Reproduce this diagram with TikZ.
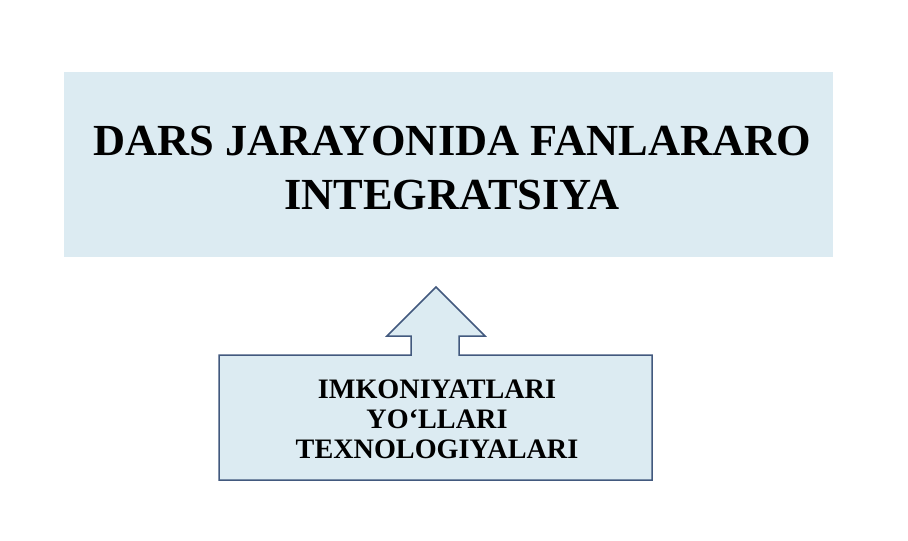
\documentclass[tikz,border=0pt]{standalone}
\usepackage{fontspec}
\setmainfont{Liberation Serif}
\definecolor{boxfill}{HTML}{DCEBF2}
\definecolor{boxline}{HTML}{42597E}
\tikzset{
  titlebox/.style={fill=none,inner sep=0pt,align=center,font=\bfseries\fontsize{22.2}{27}\selectfont},
  calloutbox/.style={draw=boxline,fill=boxfill,line width=0.75pt,line join=miter},
  waystext/.style={align=center,font=\bfseries\fontsize{14.1}{15}\selectfont}
}
\begin{document}
\begin{tikzpicture}[x=0.5pt,y=-0.5pt]
		\useasboundingbox (0,0) rectangle (908,540);
		\fill[boxfill] (64,72) rectangle (833,257);
		\node[titlebox] (integr) at (452,168) {DARS JARAYONIDA FANLARARO\\INTEGRATSIYA};
		% callout with the arrow pointing up
		\draw[calloutbox] (219,355)--(411,355)--(411,336)--(387,336)--(436,287)--(485,336)
			--(459,336)--(459,355)--(652,355)--(652,480)--(219,480)--cycle;
		\node[waystext] (ways) at (437,419) {IMKONIYATLARI\\YO‘LLARI\\TEXNOLOGIYALARI};
		\end{tikzpicture}
\end{document}
